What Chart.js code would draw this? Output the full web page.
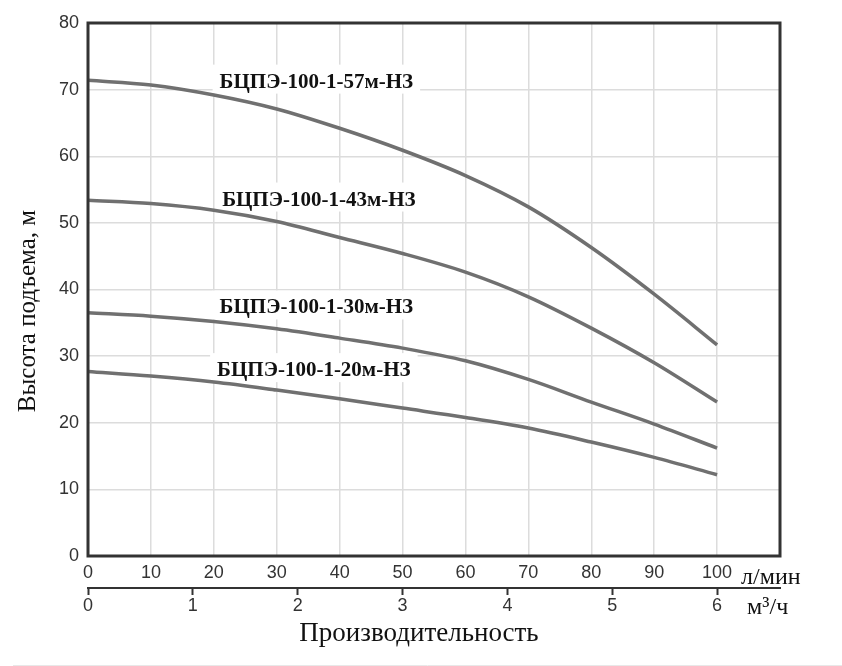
<!DOCTYPE html>
<html lang="ru">
<head>
    <meta charset="UTF-8">
    <title>Напорные характеристики БЦПЭ-100-1</title>
    <script src="https://cdn.jsdelivr.net/npm/chart.js"></script>
    <style>
        body {
            margin: 0;
            background: #fff;
        }
        .wrap {
            width: 842px;
            height: 666px;
            position: relative;
        }
    </style>
</head>
<body>
<div class="wrap">
    <canvas id="pumpChart" width="842" height="666"></canvas>
</div>
<script>
    // Подача, л/мин
    const flowLpm = [0, 10, 20, 30, 40, 50, 60, 70, 80, 90, 100];

    // Напор, м
    const head57 = [71.4, 70.7, 69.2, 67.1, 64.2, 60.9, 57.1, 52.4, 46.3, 39.3, 31.7];
    const head43 = [53.4, 52.9, 51.9, 50.2, 47.8, 45.4, 42.6, 38.9, 34.2, 29.0, 23.1];
    const head30 = [36.5, 36.0, 35.2, 34.1, 32.7, 31.2, 29.3, 26.5, 23.1, 19.8, 16.2];
    const head20 = [27.7, 27.0, 26.1, 24.9, 23.6, 22.2, 20.8, 19.2, 17.1, 14.8, 12.2];

    const curveNames = ['БЦПЭ-100-1-57м-НЗ', 'БЦПЭ-100-1-43м-НЗ', 'БЦПЭ-100-1-30м-НЗ', 'БЦПЭ-100-1-20м-НЗ'];

    // Деления осей
    const headTicks = [0, 10, 20, 30, 40, 50, 60, 70, 80];
    const lpmTicks = [0, 10, 20, 30, 40, 50, 60, 70, 80, 90, 100];
    const m3hTicks = [0, 1, 2, 3, 4, 5, 6];

    const X_MAX = 110;
    const LPM_PER_M3H = 1000 / 60;

    // где стоят подписи кривых (в единицах графика: л/мин, м)
    const labelAt = [[36.3, 70.3], [36.7, 52.6], [36.3, 36.4], [35.9, 27.0]];

    const serif = '"Liberation Serif", "Times New Roman", serif';
    const sans = '"Liberation Sans", Arial, sans-serif';

    function pts(arr) {
        return flowLpm.map((q, i) => ({ x: q, y: arr[i] }));
    }

    function curve(arr) {
        return {
            data: pts(arr),
            borderColor: '#707070',
            borderWidth: 3.5,
            pointRadius: 0,
            fill: false,
            cubicInterpolationMode: 'monotone'
        };
    }

    // подписи кривых, рамка, названия осей
    const overlay = {
        id: 'overlay',
        beforeDatasetsDraw(chart) {
            const { ctx, scales: { x, y } } = chart;
            ctx.save();
            ctx.font = 'bold 21px ' + serif;
            ctx.textAlign = 'center';
            ctx.textBaseline = 'alphabetic';
            curveNames.forEach((name, i) => {
                const px = x.getPixelForValue(labelAt[i][0]);
                const py = y.getPixelForValue(labelAt[i][1]);
                const w = ctx.measureText(name).width;
                ctx.fillStyle = '#fff';
                ctx.fillRect(px - w / 2 - 7, py - 23, w + 14, 29);
                ctx.fillStyle = '#111';
                ctx.fillText(name, px, py);
            });
            ctx.restore();
        },
        afterDraw(chart) {
            const { ctx, chartArea: a, scales: { x } } = chart;
            ctx.save();
            // рамка
            ctx.strokeStyle = '#333';
            ctx.lineWidth = 3;
            ctx.strokeRect(a.left, a.top, a.right - a.left, a.bottom - a.top);

            ctx.fillStyle = '#111';
            ctx.textBaseline = 'middle';

            // ось Y
            ctx.save();
            ctx.font = '25px ' + serif;
            ctx.translate(28, 311);
            ctx.rotate(-Math.PI / 2);
            ctx.textAlign = 'center';
            ctx.fillText('Высота подъема, м', 0, 0);
            ctx.restore();

            // ось X
            ctx.textAlign = 'center';
            ctx.font = '27px ' + serif;
            ctx.fillText('Производительность', 419, 634);

            // единицы
            ctx.textAlign = 'left';
            ctx.font = '24px ' + serif;
            const ux = x.getPixelForValue(100);
            ctx.fillText('л/мин', ux + 24, 578);
            ctx.fillText('м³/ч', ux + 30, 608);

            // светлая линия внизу
            ctx.strokeStyle = '#e8e8e8';
            ctx.lineWidth = 1;
            ctx.beginPath();
            ctx.moveTo(13, 665.5);
            ctx.lineTo(842, 665.5);
            ctx.stroke();
            ctx.restore();
        }
    };

    const ctx = document.getElementById('pumpChart').getContext('2d');
    new Chart(ctx, {
        type: 'line',
        data: {
            datasets: [curve(head57), curve(head43), curve(head30), curve(head20)]
        },
        options: {
            responsive: false,
            animation: false,
            layout: { padding: { left: 0, top: 23, right: 62, bottom: 0 } },
            plugins: {
                legend: { display: false },
                tooltip: { enabled: false }
            },
            scales: {
                x: {
                    type: 'linear',
                    position: 'bottom',
                    weight: 1,
                    min: 0,
                    max: X_MAX,
                    afterBuildTicks: s => { s.ticks = lpmTicks.map(v => ({ value: v })); },
                    afterFit: s => { s.height = 32; },
                    border: { display: false },
                    grid: { color: '#dcdcdc', lineWidth: 1.5, drawTicks: false },
                    ticks: {
                        color: '#333',
                        font: { family: sans, size: 18 },
                        padding: 6,
                        maxRotation: 0
                    }
                },
                x2: {
                    type: 'linear',
                    position: 'bottom',
                    weight: 2,
                    min: 0,
                    max: X_MAX / LPM_PER_M3H,
                    afterBuildTicks: s => { s.ticks = m3hTicks.map(v => ({ value: v })); },
                    afterFit: s => { s.height = 78; },
                    border: { display: true, color: '#333', width: 2 },
                    grid: {
                        drawOnChartArea: false,
                        drawTicks: true,
                        tickLength: 7,
                        tickColor: '#333',
                        tickWidth: 2,
                        color: '#333'
                    },
                    ticks: {
                        color: '#333',
                        font: { family: sans, size: 18 },
                        padding: 0,
                        maxRotation: 0
                    }
                },
                y: {
                    type: 'linear',
                    min: 0,
                    max: 80,
                    afterBuildTicks: s => { s.ticks = headTicks.map(v => ({ value: v })); },
                    afterFit: s => { s.width = 88; },
                    border: { display: false },
                    grid: { color: '#dcdcdc', lineWidth: 1.5, drawTicks: false },
                    ticks: {
                        color: '#333',
                        font: { family: sans, size: 18 },
                        padding: 9
                    }
                }
            }
        },
        plugins: [overlay]
    });
</script>
</body>
</html>
